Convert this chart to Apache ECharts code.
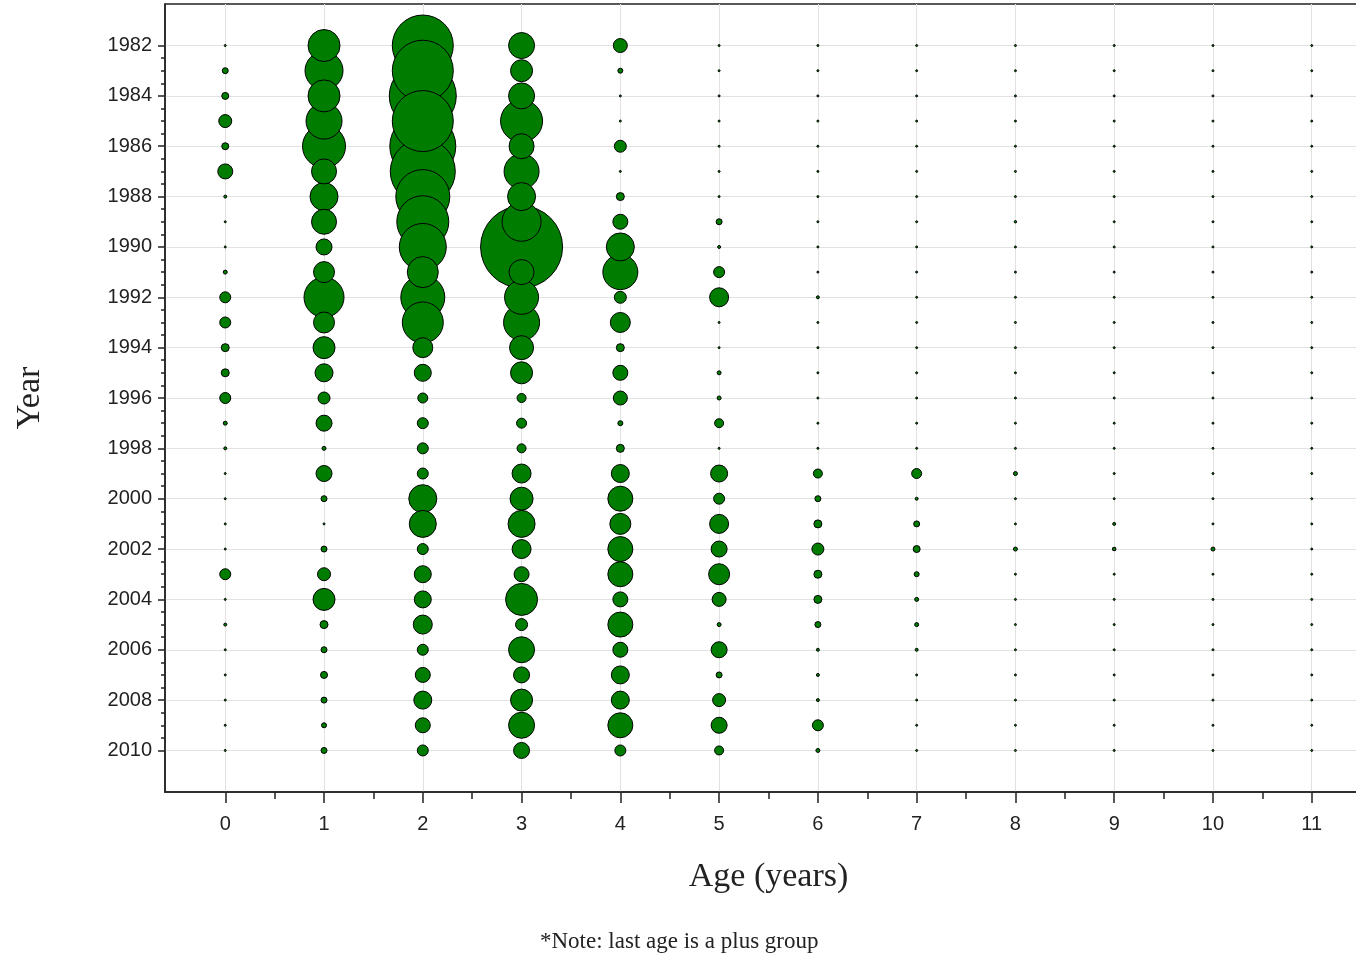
<!DOCTYPE html>
<html>
<head>
<meta charset="utf-8">
<script src="https://cdn.jsdelivr.net/npm/echarts@6/dist/echarts.min.js"></script>
<style>html,body{margin:0;padding:0;background:#fff}#c{width:1356px;height:956px}</style>
</head>
<body>
<div id="c"></div>
<script>
// Years (rows) and ages (columns)
const years = [1982,1983,1984,1985,1986,1987,1988,1989,1990,1991,1992,1993,1994,1995,1996,1997,1998,1999,2000,2001,2002,2003,2004,2005,2006,2007,2008,2009,2010];
const ages = [0,1,2,3,4,5,6,7,8,9,10,11];

// Relative abundance at each age, one value per year 1982..2010
const age0  = [0.04,0.49,0.64,1.96,0.64,2.56,0.16,0.04,0.04,0.25,1.44,1.44,0.81,0.81,1.44,0.25,0.16,0.04,0.04,0.04,0.04,1.44,0.04,0.16,0.04,0.09,0.04,0.04,0.04];
const age1  = [10.89,15.21,10.89,13.69,19.36,6.76,8.41,6.76,2.89,4.84,16.81,4.84,5.29,3.61,1.69,2.89,0.25,2.89,0.49,0.09,0.49,1.96,5.29,0.81,0.49,0.64,0.49,0.36,0.49];
const age2  = [38.44,38.44,46.24,38.44,44.89,43.56,30.25,28.09,23.04,10.24,20.25,17.64,4.41,3.24,1.21,1.44,1.44,1.44,8.41,7.84,1.44,3.24,3.24,4.00,1.44,2.56,3.61,2.56,1.44];
const age3  = [7.29,5.29,7.29,18.49,6.76,12.96,8.41,16.00,68.89,6.76,12.25,13.69,6.25,5.29,1.00,1.21,1.00,4.00,5.76,7.84,4.00,2.56,10.89,1.69,7.29,2.89,5.29,7.29,2.89];
const age4  = [2.25,0.36,0.04,0.02,1.69,0.02,0.81,2.56,8.41,12.96,1.69,4.41,0.81,2.56,2.25,0.36,0.81,3.61,6.76,4.84,6.76,6.76,2.56,6.76,2.56,3.61,3.61,6.76,1.44];
const age5  = [0.02,0.02,0.02,0.02,0.02,0.02,0.02,0.49,0.16,1.44,4.00,0.04,0.09,0.25,0.25,1.00,0.09,3.24,1.44,4.00,2.89,4.84,2.25,0.25,2.89,0.49,1.96,2.89,1.00];
const age6  = [0.04,0.02,0.02,0.02,0.02,0.02,0.02,0.09,0.09,0.09,0.16,0.06,0.04,0.09,0.04,0.09,0.09,1.00,0.49,0.81,1.69,0.81,0.81,0.49,0.16,0.16,0.16,1.44,0.25];
const age7  = [0.02,0.02,0.02,0.02,0.02,0.02,0.02,0.09,0.02,0.02,0.02,0.02,0.06,0.02,0.02,0.04,0.02,1.21,0.16,0.49,0.64,0.36,0.25,0.25,0.16,0.02,0.09,0.09,0.09];
const age8  = [0.02,0.02,0.02,0.02,0.02,0.02,0.02,0.12,0.02,0.02,0.02,0.02,0.02,0.02,0.02,0.02,0.02,0.25,0.09,0.09,0.25,0.09,0.09,0.04,0.09,0.02,0.04,0.09,0.02];
const age9  = [0.02,0.02,0.02,0.02,0.02,0.02,0.02,0.02,0.02,0.06,0.02,0.02,0.02,0.02,0.02,0.02,0.02,0.02,0.02,0.16,0.20,0.09,0.04,0.02,0.04,0.02,0.02,0.04,0.02];
const age10 = [0.02,0.02,0.02,0.02,0.02,0.02,0.02,0.02,0.02,0.09,0.02,0.02,0.02,0.02,0.02,0.02,0.02,0.02,0.02,0.02,0.25,0.09,0.09,0.04,0.09,0.02,0.02,0.09,0.02];
const age11 = [0.02,0.02,0.02,0.02,0.02,0.02,0.02,0.02,0.02,0.02,0.02,0.02,0.02,0.02,0.02,0.02,0.02,0.02,0.02,0.02,0.04,0.02,0.02,0.02,0.02,0.02,0.02,0.02,0.02];

// Tick labels
const yearTicks = [1982,1984,1986,1988,1990,1992,1994,1996,1998,2000,2002,2004,2006,2008,2010];
const ageTicks = [0,1,2,3,4,5,6,7,8,9,10,11];

const ageSeries = [age0,age1,age2,age3,age4,age5,age6,age7,age8,age9,age10,age11];
const yearMinor = [];
for (let v = yearTicks[0]; v <= yearTicks[yearTicks.length-1]; v += 0.5) { if (v % 2 !== 0) yearMinor.push(v); }
const ageMinor = ageTicks.map(a => a + 0.5);

const data = [];
ageSeries.forEach((arr, i) => arr.forEach((v, j) => data.push([ages[i], years[j], v])));
data.sort((a, b) => b[2] - a[2]);

const chart = echarts.init(document.getElementById('c'), null, {renderer: 'canvas'});
const tickFont = {fontFamily: 'Liberation Sans', fontSize: 20, color: '#222', formatter: v => String(Math.round(v))};
const YMIN = 1980.35, YMAX = 2011.65, XMIN = -0.61, XMAX = 11.61;
chart.setOption({
  animation: false,
  backgroundColor: '#fff',
  grid: {left: 165, top: 4, bottom: 164, right: -16, show: true, borderColor: '#222', borderWidth: 1.5, outerBoundsMode: 'none', containLabel: false},
  xAxis: [{
    type: 'value', min: XMIN, max: XMAX, minInterval: 1, maxInterval: 1, position: 'bottom',
    name: 'Age (years)', nameLocation: 'middle', nameGap: 68,
    nameTextStyle: {fontFamily: 'Liberation Serif', fontSize: 34, color: '#222'},
    axisLine: {show: true, onZero: false, lineStyle: {color: '#222', width: 1.5}},
    axisTick: {show: true, length: 11, customValues: ageTicks, lineStyle: {color: '#222', width: 1.5}},
    axisLabel: Object.assign({customValues: ageTicks, margin: 22}, tickFont),
    splitLine: {show: true, lineStyle: {color: '#e2e2e2', width: 1}}
  }, {
    type: 'value', min: XMIN, max: XMAX, position: 'bottom', gridIndex: 0,
    axisLine: {show: false, onZero: false}, axisLabel: {show: false}, splitLine: {show: false},
    axisTick: {show: true, length: 7, customValues: ageMinor, lineStyle: {color: '#222', width: 1.5}}
  }],
  yAxis: [{
    type: 'value', min: YMIN, max: YMAX, inverse: true, minInterval: 2, maxInterval: 2, position: 'left',
    name: 'Year', nameLocation: 'middle', nameGap: 118, nameRotate: 90,
    nameTextStyle: {fontFamily: 'Liberation Serif', fontSize: 34, color: '#222'},
    axisLine: {show: true, onZero: false, lineStyle: {color: '#222', width: 1.5}},
    axisTick: {show: true, length: 7, customValues: yearTicks, lineStyle: {color: '#222', width: 1.5}},
    axisLabel: Object.assign({customValues: yearTicks, margin: 13}, tickFont),
    splitLine: {show: true, lineStyle: {color: '#e2e2e2', width: 1}}
  }, {
    type: 'value', min: YMIN, max: YMAX, inverse: true, position: 'left', gridIndex: 0,
    axisLine: {show: false, onZero: false}, axisLabel: {show: false}, splitLine: {show: false},
    axisTick: {show: true, length: 4, customValues: yearMinor, lineStyle: {color: '#222', width: 1.5}}
  }],
  graphic: [{
    type: 'text', left: 540, top: 930,
    style: {text: '*Note: last age is a plus group', fontFamily: 'Liberation Serif', fontSize: 23, fill: '#222'}
  }],
  series: [{
    type: 'scatter', xAxisIndex: 0, yAxisIndex: 0,
    data: data,
    symbol: 'circle',
    symbolSize: function (val) { return Math.max(2, 10 * Math.sqrt(val[2]) - 1); },
    itemStyle: {color: '#007d00', borderColor: '#000', borderWidth: 1, opacity: 1},
    emphasis: {disabled: true},
    silent: true
  }]
});
</script>
</body>
</html>
